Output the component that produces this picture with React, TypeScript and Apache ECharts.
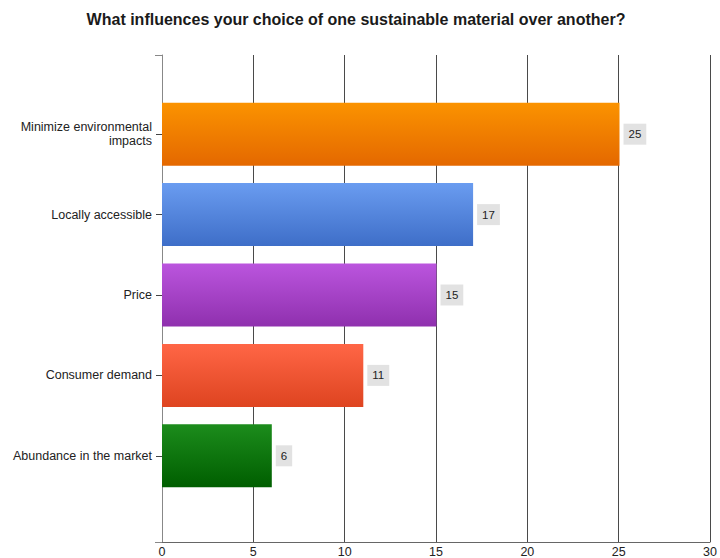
import React, { useEffect, useRef } from "react";
import * as echarts from "echarts";

const title = "What influences your choice of one sustainable material over another?";
const categories = [
  "Minimize environmental\nimpacts",
  "Locally accessible",
  "Price",
  "Consumer demand",
  "Abundance in the market",
];
const values = [25, 17, 15, 11, 6];
const xTicks = [0, 5, 10, 15, 20, 25, 30];

const topColors = ["#fb9300", "#6a9cf0", "#bb55de", "#ff6646", "#1c8c1c"];
const bottomColors = ["#e46800", "#3e6ec8", "#8f30ae", "#de4420", "#005e00"];

export default function App() {
  const ref = useRef<HTMLDivElement>(null);
  useEffect(() => {
    if (!ref.current) return;
    const chart = echarts.init(ref.current, null, { renderer: "svg" });
    const narrow = "'Liberation Sans Narrow', 'Liberation Sans', Arial, sans-serif";
    const sans = "'Liberation Sans', Arial, sans-serif";
    chart.setOption({
      animation: false,
      backgroundColor: "#ffffff",
      title: {
        text: title,
        left: 351,
        top: 6,
        textAlign: "center",
        textStyle: { fontFamily: sans, fontSize: 16, fontWeight: "bold", color: "#1a1a1a" },
      },
      grid: [
        { left: 162, right: 9, top: 55, bottom: 13 },
        { left: 162, right: 9, top: 94, height: 402 },
      ],
      xAxis: [
        {
          gridIndex: 0,
          type: "value",
          min: xTicks[0],
          max: xTicks[xTicks.length - 1],
          interval: 5,
          axisLine: { show: true, lineStyle: { color: "#666666", width: 1 } },
          axisTick: { show: false },
          axisLabel: {
            fontFamily: narrow,
            fontSize: 12.5,
            color: "#222222",
            margin: 3,
            formatter: (v: number) => (xTicks.includes(v) ? String(v) : ""),
          },
          splitLine: { show: true, lineStyle: { color: "#4a4a4a", width: 1 } },
        },
        {
          gridIndex: 1,
          type: "value",
          min: xTicks[0],
          max: xTicks[xTicks.length - 1],
          show: false,
        },
      ],
      yAxis: [
        {
          gridIndex: 0,
          type: "value",
          min: 0,
          max: 1,
          interval: 1,
          axisLine: { show: true, lineStyle: { color: "#888888", width: 1 } },
          axisTick: { show: true, length: 7, lineStyle: { color: "#888888" } },
          axisLabel: { show: false },
          splitLine: { show: false },
        },
        {
          gridIndex: 1,
          type: "category",
          inverse: true,
          data: categories,
          axisLine: { show: false },
          axisTick: { show: true, alignWithLabel: true, length: 6, lineStyle: { color: "#444444" } },
          axisLabel: {
            fontFamily: sans,
            fontSize: 12.5,
            color: "#222222",
            margin: 10,
            lineHeight: 14,
            align: "right",
          },
        },
      ],
      series: [
        {
          type: "bar",
          xAxisIndex: 1,
          yAxisIndex: 1,
          barWidth: 63,
          data: values.map((v, i) => ({
            value: v,
            itemStyle: {
              color: new echarts.graphic.LinearGradient(0, 0, 0, 1, [
                { offset: 0, color: topColors[i] },
                { offset: 1, color: bottomColors[i] },
              ]),
            },
          })),
          label: {
            show: true,
            position: "right",
            distance: 4,
            backgroundColor: "#e2e2e2",
            padding: [5, 5, 4, 5],
            color: "#222222",
            fontFamily: narrow,
            fontSize: 11.5,
          },
        },
      ],
    });
    return () => chart.dispose();
  }, []);
  return (
    <div
      ref={ref}
      style={{ position: "fixed", left: 0, top: 0, width: 720, height: 558 }}
    />
  );
}
